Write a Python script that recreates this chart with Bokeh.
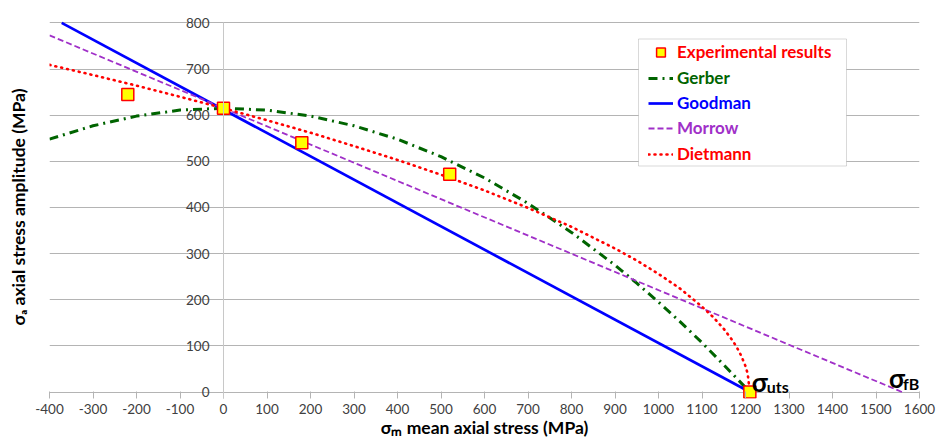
from bokeh.plotting import figure
from bokeh.models import (Range1d, LinearAxis, FixedTicker, Legend, LegendItem,
                          Label, BoxAnnotation)
from bokeh.embed import file_html
from bokeh.resources import INLINE

# ---------------- data ----------------
exp_sm = [-220, 0, 180, 520, 1210]
exp_sa = [645, 615, 540, 472, 0]

gerber_sm = [-400, -300, -200, -100, 0, 100, 200, 300, 400, 500, 600, 700,
             800, 900, 950, 1000, 1050, 1100, 1150, 1210]
gerber_sa = [548, 577, 598, 611, 615, 611, 598, 577, 548, 510, 464, 409,
             346, 275, 236, 195, 152, 107, 59, 0]

goodman_sm = [-372, 1210]
goodman_sa = [800, 0]

morrow_sm = [-400, 1560]
morrow_sa = [773, 0]

dietmann_sm = [-400, -300, -200, -100, 0, 100, 200, 300, 400, 500, 600, 700,
               800, 900, 950, 1000, 1050, 1100, 1125, 1150, 1170, 1180, 1190,
               1200, 1205, 1210]
dietmann_sa = [709, 687, 664, 640, 615, 589, 562, 533, 503, 471, 437, 399,
               358, 311, 285, 256, 224, 185, 163, 137, 112, 97, 79,
               56, 40, 0]

SIGMA_UTS = 1210
SIGMA_FB = 1560

x_ticks = list(range(-400, 1601, 100))
y_ticks = list(range(0, 801, 100))
x_tick_labels = {t: str(t) for t in x_ticks}

FONT = "Lato"
GRID = "#b4b4b4"
TICK_TXT = "#404040"

RED = "#ff0000"
GREEN = "#006400"
BLUE = "#0000ff"
PURPLE = "#a030c8"

# ---------------- figure ----------------
W, H = 936, 440
TOP, LEFT, FRAME_W = 15, 49, 870
p = figure(width=W, height=H, x_range=Range1d(-400, 1600), y_range=Range1d(-14, 816),
           output_backend="svg", toolbar_location=None,
           min_border_left=LEFT, min_border_right=W - LEFT - FRAME_W,
           min_border_top=TOP, min_border_bottom=4)
p.outline_line_color = None
p.background_fill_color = "white"
p.xgrid.grid_line_color = None
p.ygrid.ticker = FixedTicker(ticks=y_ticks)
p.ygrid.grid_line_color = GRID
p.ygrid.grid_line_width = 1

# x axis (bottom) - ticks reach up to the zero line
xa = p.xaxis[0]
xa.ticker = FixedTicker(ticks=x_ticks)
xa.major_label_overrides = x_tick_labels
xa.axis_line_color = None
xa.major_tick_line_color = GRID
xa.major_tick_out = 0
xa.major_tick_in = 7
xa.minor_tick_line_color = None
xa.major_label_text_font = FONT
xa.major_label_text_font_size = "13.5px"
xa.major_label_text_color = TICK_TXT
xa.major_label_standoff = 5
xa.axis_label = "σₘ mean axial stress (MPa)"
xa.axis_label_text_font = FONT
xa.axis_label_text_font_size = "17.5px"
xa.axis_label_text_font_style = "bold"
xa.axis_label_text_color = "black"
xa.axis_label_standoff = 0

# y axis fixed at x = 0
ya = p.yaxis[0]
ya.fixed_location = 0
ya.bounds = (-14, 800)
ya.ticker = FixedTicker(ticks=y_ticks)
ya.axis_line_color = "#c8c8c8"
ya.major_tick_line_color = None
ya.minor_tick_line_color = None
ya.major_tick_out = 0
ya.major_tick_in = 0
ya.major_label_text_font = FONT
ya.major_label_text_font_size = "13.5px"
ya.major_label_text_color = TICK_TXT
ya.major_label_standoff = 14

# y title axis on the far left
ta = LinearAxis(ticker=FixedTicker(ticks=[]), axis_line_color=None,
                major_tick_line_color=None, minor_tick_line_color=None,
                axis_label="σₐ axial stress amplitude (MPa)",
                axis_label_text_font=FONT, axis_label_text_font_size="17.5px",
                axis_label_text_font_style="bold", axis_label_text_color="black",
                axis_label_standoff=21)
p.add_layout(ta, "left")

# ---------------- series ----------------
r_ger = p.line(gerber_sm, gerber_sa, line_color=GREEN, line_width=3, line_dash="9 5 2 5")
r_good = p.line(goodman_sm, goodman_sa, line_color=BLUE, line_width=2.7)
r_mor = p.line(morrow_sm, morrow_sa, line_color=PURPLE, line_width=1.8, line_dash="6 3")
r_die = p.line(dietmann_sm, dietmann_sa, line_color=RED, line_width=2.6, line_dash="1 5",
               line_cap="round")
r_exp = p.scatter(exp_sm, exp_sa, marker="square", size=12, fill_color="#ffff00",
                  line_color=RED, line_width=1.5)

# ---------------- legend ----------------
FRAME_H = 382.5          # expected frame height in px
def from_top(py):        # page y -> screen units measured up from frame bottom
    return FRAME_H - (py - TOP)

box = BoxAnnotation(left=589, right=797, top=from_top(38), bottom=from_top(165),
                    left_units="screen", right_units="screen",
                    top_units="screen", bottom_units="screen",
                    fill_color="white", fill_alpha=1.0,
                    line_color="#808080", line_width=1)
p.add_layout(box)

entries = [("Experimental results", r_exp, RED),
           ("Gerber", r_ger, GREEN),
           ("Goodman", r_good, BLUE),
           ("Morrow", r_mor, PURPLE),
           ("Dietmann", r_die, RED)]
row_centers = [51, 77, 102, 127, 153]
ROW = 22
for (lab, rend, col), cy in zip(entries, row_centers):
    leg = Legend(items=[LegendItem(label=lab, renderers=[rend])],
                 location=(599, from_top(cy + ROW / 2)))
    leg.label_text_color = col
    leg.label_text_font = FONT
    leg.label_text_font_size = "17px"
    leg.label_text_font_style = "bold"
    leg.border_line_color = None
    leg.background_fill_alpha = 0
    leg.padding = 0
    leg.margin = 0
    leg.spacing = 0
    leg.glyph_width = 25
    leg.glyph_height = ROW
    leg.label_height = ROW
    leg.label_standoff = 4
    p.add_layout(leg)

# ---------------- annotations ----------------
def sym(x, main_dx, main_dy, sub, sub_dx, sub_dy):
    p.add_layout(Label(x=x, y=0, text="σ", x_offset=main_dx, y_offset=main_dy,
                       text_font=FONT, text_font_size="26px", text_font_style="bold",
                       text_color="black", text_baseline="alphabetic"))
    p.add_layout(Label(x=x, y=0, text=sub, x_offset=sub_dx, y_offset=sub_dy,
                       text_font=FONT, text_font_size="16px", text_font_style="bold",
                       text_color="black", text_baseline="alphabetic"))

sym(SIGMA_UTS, 2, 10, "uts", 17, 6)
sym(SIGMA_FB, -13, 14, "fB", 1, 9)

open("out.html", "w").write(file_html(p, INLINE))
